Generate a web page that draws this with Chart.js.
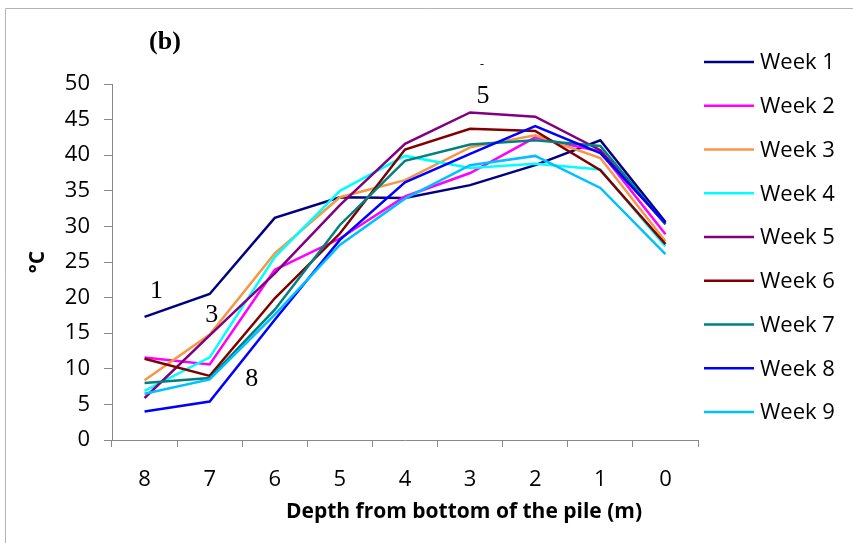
<!DOCTYPE html>
<html>
<head>
<meta charset="utf-8">
<script src="https://cdn.jsdelivr.net/npm/chart.js@4/dist/chart.umd.min.js"></script>
<style>
  html, body { margin: 0; padding: 0; background: #ffffff; }
  #wrap { width: 853px; height: 543px; position: relative; }
</style>
</head>
<body>
<div id="wrap"><canvas id="c" width="853" height="543"></canvas></div>
<script>
// ---- data ----
const depths = ['8', '7', '6', '5', '4', '3', '2', '1', '0'];
const seriesNames = ['Week 1', 'Week 2', 'Week 3', 'Week 4', 'Week 5', 'Week 6', 'Week 7', 'Week 8', 'Week 9'];
const week1 = [17.3, 20.5, 31.2, 34.1, 34.0, 35.8, 38.6, 42.1, 30.6];
const week2 = [11.6, 10.6, 23.9, 28.3, 34.2, 37.5, 42.5, 40.5, 28.9];
const week3 = [8.4, 14.8, 26.2, 34.1, 36.5, 41.1, 42.8, 39.6, 27.9];
const week4 = [6.9, 11.6, 25.7, 35.0, 39.9, 38.2, 38.8, 38.0, 27.2];
const week5 = [5.9, 14.7, 23.4, 33.0, 41.6, 46.0, 45.4, 40.7, 30.3];
const week6 = [11.4, 9.0, 19.9, 29.0, 40.8, 43.7, 43.4, 37.9, 27.5];
const week7 = [8.0, 8.7, 18.3, 30.2, 39.2, 41.5, 42.1, 41.3, 30.3];
const week8 = [4.0, 5.4, 16.9, 28.1, 36.2, 40.2, 44.1, 40.3, 30.5];
const week9 = [6.5, 8.5, 17.6, 27.4, 33.9, 38.6, 39.9, 35.4, 26.1];
const yTicks = [0, 5, 10, 15, 20, 25, 30, 35, 40, 45, 50];
const seriesValues = [week1, week2, week3, week4, week5, week6, week7, week8, week9];
const seriesColors = ['#000080', '#FF00FF', '#F79646', '#00FFFF', '#800080', '#800000', '#008080', '#0000FF', '#00C0FF'];

const panelLabel = '(b)';
const xTitle = 'Depth from bottom of the pile (m)';
const yTitle = '°C';
// curve labels: [text, category, value]
const curveLabels = [['1', '8', 20.9], ['3', '7', 17.6], ['8', '6', 8.5], ['5', '3', 48.3]];

const datasets = seriesNames.map((n, i) => ({
  label: n,
  data: seriesValues[i],
  borderColor: seriesColors[i],
  backgroundColor: seriesColors[i],
  borderWidth: 2.5,
  pointRadius: 0,
  tension: 0,
  fill: false,
  order: seriesNames.length - i
}));

const decor = {
  id: 'decor',
  afterDraw(chart) {
    const ctx = chart.ctx;
    const xs = chart.scales.x, ys = chart.scales.y;
    ctx.save();
    // frame
    ctx.strokeStyle = '#b4b4b4';
    ctx.lineWidth = 1;
    ctx.beginPath();
    ctx.moveTo(5.5, 543);
    ctx.lineTo(5.5, 8.5);
    ctx.lineTo(853, 8.5);
    ctx.stroke();
    // panel label
    ctx.fillStyle = '#000';
    ctx.textAlign = 'center';
    ctx.textBaseline = 'middle';
    ctx.font = 'bold 26px "Liberation Serif"';
    ctx.fillText(panelLabel, 165, 42);
    // curve labels
    ctx.font = '26px "Liberation Serif"';
    curveLabels.forEach(([t, cat, v]) => {
      const idx = depths.indexOf(cat);
      let x = xs.getPixelForValue(idx);
      if (t === '1') x += 12;
      if (t === '3') x += 2;
      if (t === '8') x -= 23;
      if (t === '5') x += 13;
      ctx.fillText(t, x, ys.getPixelForValue(v));
    });
    // tiny dash
    ctx.font = '12px "Liberation Serif"';
    ctx.fillText('-', 482, 65);
    // x title
    ctx.font = 'bold 21px "Open Sans"';
    ctx.fillText(xTitle, 464, 512);
    // legend
    ctx.font = '22px "Open Sans"';
    ctx.textAlign = 'left';
    chart.data.datasets.forEach((d, i) => {
      const y = 62 + i * 43.75;
      ctx.strokeStyle = d.borderColor;
      ctx.lineWidth = 2.5;
      ctx.beginPath();
      ctx.moveTo(704, y);
      ctx.lineTo(754, y);
      ctx.stroke();
      ctx.fillStyle = '#000';
      ctx.fillText(d.label, 760, y + 1);
    });
    ctx.restore();
  }
};

new Chart(document.getElementById('c'), {
  type: 'line',
  data: { labels: depths, datasets },
  options: {
    responsive: false,
    animation: false,
    devicePixelRatio: 1,
    layout: { padding: { top: 84, right: 155, left: 0, bottom: 0 } },
    plugins: { legend: { display: false }, tooltip: { enabled: false } },
    scales: {
      x: {
        type: 'category',
        offset: true,
        grid: { display: true, offset: true, drawOnChartArea: false, drawTicks: true, tickLength: 7, color: '#888888' },
        border: { display: true, color: '#888888', width: 1 },
        ticks: { color: '#000', font: { family: '"Open Sans"', size: 22 }, padding: 20, maxRotation: 0 },
        afterFit(s) { s.height = 103; }
      },
      y: {
        min: 0, max: 50,
        afterBuildTicks(s) { s.ticks = yTicks.map(v => ({ value: v })); },
        grid: { display: true, drawOnChartArea: false, drawTicks: true, tickLength: 8, color: '#888888' },
        border: { display: true, color: '#888888', width: 1 },
        ticks: { color: '#000', font: { family: '"Open Sans"', size: 22 }, padding: 14 },
        title: { display: true, text: yTitle, color: '#000', font: { family: '"Open Sans"', size: 21, weight: 'bold' }, padding: { top: 25, bottom: 0 } },
        afterFit(s) { s.width = 112; }
      }
    }
  },
  plugins: [decor]
});
</script>
</body>
</html>
